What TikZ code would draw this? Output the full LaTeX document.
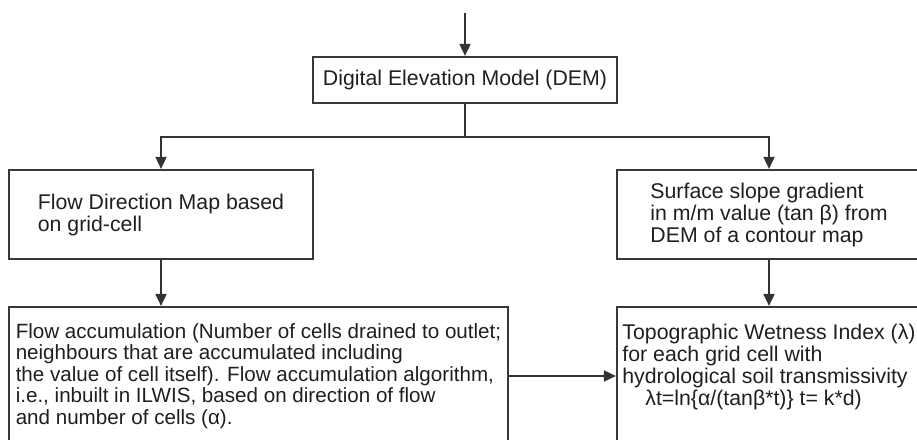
\documentclass[tikz,border=0pt]{standalone}
\usepackage{fontspec}
\setmainfont{Liberation Sans}
\usetikzlibrary{arrows.meta}
\begin{document}
\begin{tikzpicture}[x=1pt,y=1pt,
  box/.style={draw=black!78, line width=2.2pt, minimum width=304pt, inner sep=0pt,
    align=left, font=\fontsize{21.3pt}{22pt}\selectfont, text=black!88},
  conn/.style={draw=black!80, line width=1.8pt},
  arr/.style={conn, -{Triangle[length=12pt,width=11pt]}}]
\useasboundingbox (0,0) rectangle (917,-439);
\clip (0,0) rectangle (917,-439);

\node[box, minimum height=46pt] (dem) at (465,-80) {Digital Elevation Model (DEM)};
\node[box, minimum height=89pt] (fdir) at (161,-214.5) {Flow Direction Map based\\on grid-cell};
\node[box, minimum height=89pt] (surf) at (769,-214.5) {Surface slope gradient\\in m/m value (tan β) from\\DEM of a contour map};
\node[box, minimum width=499pt, minimum height=138pt, font=\fontsize{20.6pt}{21.5pt}\selectfont] (facc) at (258.5,-376) {Flow accumulation (Number of cells drained to outlet;\\neighbours that are accumulated including\\the value of cell itself). Flow accumulation algorithm,\\i.e., inbuilt in ILWIS, based on direction of flow\\and number of cells (α).};
\node[box, minimum height=138pt] (twi) at (769,-376) {Topographic Wetness Index (λ)\\for each grid cell with\\hydrological soil transmissivity\\\hspace*{23pt}λt=ln\{α/(tanβ*t)\} t= k*d)\\~};

\coordinate (in) at (465,-13);
\draw[arr] (in) -- (dem.north);
\draw[conn] (dem.south) -- ++(0,-33) coordinate (split);
\draw[arr] (split) -| (fdir.north);
\draw[arr] (split) -| (surf.north);
\draw[arr] (fdir.south) -- (fdir.south |- facc.north);
\draw[arr] (surf.south) -- (twi.north);
\draw[arr] (facc.east) -- (twi.west);
\end{tikzpicture}
\end{document}
